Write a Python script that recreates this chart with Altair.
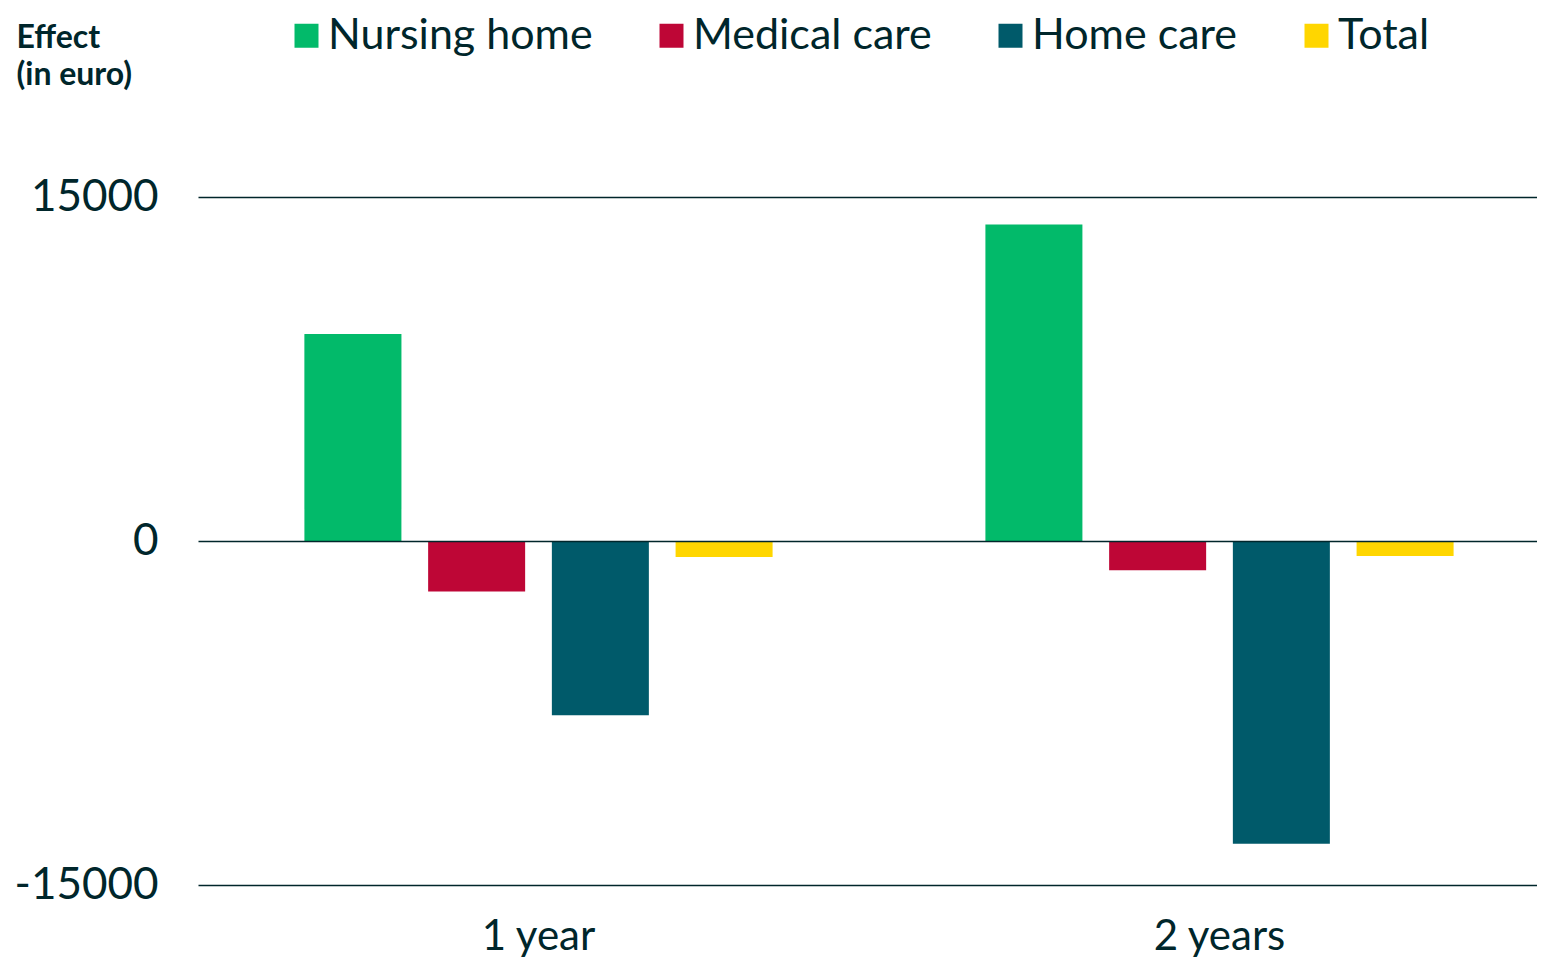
import altair as alt
import pandas as pd

periods = ["1 year", "2 years"]
categories = ["Nursing home", "Medical care", "Home care", "Total"]
colors = ["#02BA6A", "#BE0636", "#005A6A", "#FFD600"]
values_1y = [9030, -2200, -7600, -700]
values_2y = [13800, -1280, -13200, -650]

rows = []
for p, vals in zip(periods, [values_1y, values_2y]):
    for c, v in zip(categories, vals):
        rows.append({"period": p, "category": c, "value": v})
df = pd.DataFrame(rows)

FONT = "Lato"
TXT = "#00262B"

chart = alt.Chart(df).mark_bar().encode(
    x=alt.X("period:N", sort=periods,
            scale=alt.Scale(paddingInner=0, paddingOuter=0, range=[0, 1362]),
            axis=alt.Axis(title=None, labelAngle=0, domain=False, ticks=False,
                          labelFontSize=42, labelFont=FONT, labelColor=TXT,
                          labelPadding=31)),
    xOffset=alt.XOffset("category:N", sort=categories,
                        scale=alt.Scale(paddingInner=0.216, paddingOuter=0.86)),
    y=alt.Y("value:Q",
            scale=alt.Scale(domain=[-15000, 15000], nice=False),
            axis=alt.Axis(values=[-15000, 0, 15000], domain=False, ticks=False,
                          grid=True, gridColor=TXT, gridWidth=1.5, gridOpacity=1,
                          labelFontSize=44, labelFont=FONT, labelColor=TXT,
                          labelPadding=40, zindex=1,
                          labelExpr="'' + datum.value",
                          title=["Effect", "(in euro)"], titleAngle=0,
                          titleAlign="left", titleBaseline="top",
                          titleX=-182, titleY=-175,
                          titleFont=FONT, titleFontSize=32, titleFontWeight="bold",
                          titleColor=TXT, titleLineHeight=37)),
    color=alt.Color("category:N", sort=categories,
                    scale=alt.Scale(domain=categories, range=colors),
                    legend=alt.Legend(title=None, orient="none", direction="horizontal",
                                      legendX=87, legendY=-183, padding=0,
                                      symbolType="square", symbolSize=576,
                                      symbolStrokeWidth=0, symbolOpacity=1,
                                      labelFontSize=43, labelFont=FONT,
                                      labelColor=TXT, labelOffset=0,
                                      columnPadding=57, labelLimit=400)),
).properties(
    width=1339, height=688,
    autosize=alt.AutoSizeParams(type="none"),
    padding={"left": 190, "top": 189, "right": 0, "bottom": 72},
).configure_view(stroke=None)

chart.save("out.html", embed_options={"renderer": "svg", "actions": False})
